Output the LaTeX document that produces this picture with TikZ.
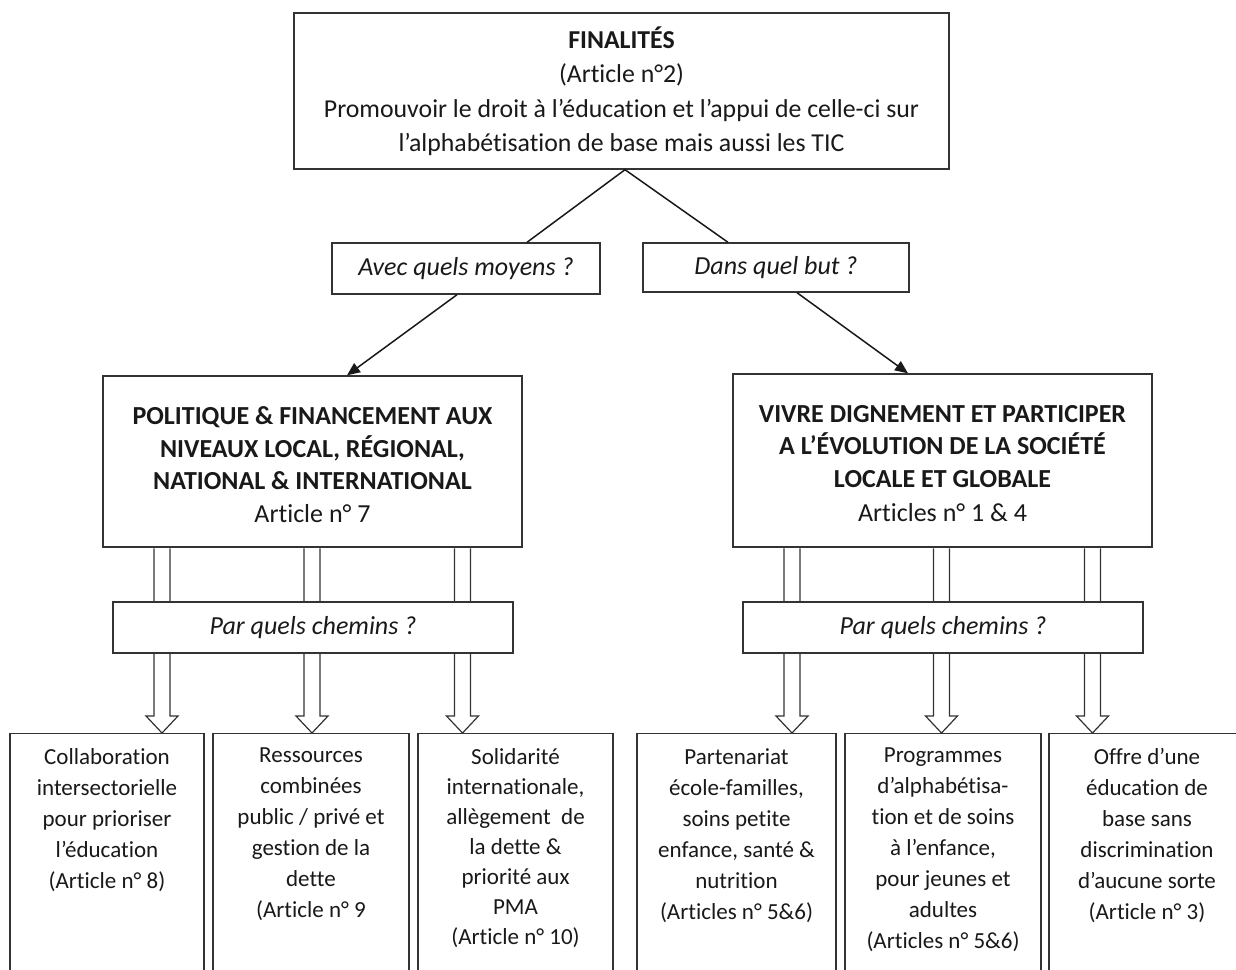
\documentclass[tikz,border=0pt]{standalone}
\usepackage{fontspec}
\setmainfont{Carlito}[Ligatures=NoCommon]
\usetikzlibrary{arrows.meta,calc}
\newcommand\hollowdown[2]{%
  \path[hollow] let \p1=(#1), \p2=(#1 |- #2.north) in
    (\x1-8pt,\y1-0.7pt) -- (\x1-8pt,\y2+17pt) -- (\x1-16pt,\y2+17pt) -- (\x1,\y2)
    -- (\x1+16pt,\y2+17pt) -- (\x1+8pt,\y2+17pt) -- (\x1+8pt,\y1-0.7pt);}
\begin{document}
\begin{tikzpicture}[x=1pt,y=-1pt,
  box/.style={draw=black!80, line width=1.4pt, align=center, inner sep=0pt, fill=white, text=black!90},
  qbox/.style={box, font=\itshape\fontsize{26}{30}\selectfont},
  bigbox/.style={box, minimum width=419pt},
  bigtext/.style={align=center, inner sep=0pt, text=black!90, font=\fontsize{26}{32.5}\selectfont},
  bbox/.style={box, anchor=north, minimum height=320pt},
  btext/.style={anchor=north, align=center, inner sep=0pt, text=black!90, font=\fontsize{23}{31}\selectfont},
  conn/.style={line width=1.5pt, draw=black!90},
  tip/.style={-{Triangle[length=13pt,width=11pt]}},
  hollow/.style={draw=black!80, line width=1.2pt, fill=white}]
\useasboundingbox (0,0) rectangle (1236,969);
\clip (0,0) rectangle (1236,969);

% top
\node[box, minimum width=655pt, minimum height=156pt, font=\fontsize{25.8}{34.5}\selectfont] (top) at (621.5,91)
  {\textbf{FINALITÉS}\\(Article n°2)\\Promouvoir le droit à l’éducation et l’appui de celle-ci sur\\l’alphabétisation de base mais aussi les TIC};

% questions
\node[qbox, minimum width=268pt, minimum height=51pt] (avec) at (466,268.5) {Avec quels moyens ?};
\node[qbox, minimum width=266pt, minimum height=49pt] (dans) at (776,267.5) {Dans quel but ?};

% big boxes
\node[bigbox, minimum height=171pt] (L) at (312.5,461.5) {};
\node[bigtext] (Lt) at ([yshift=-3pt]L.center)
  {\textbf{POLITIQUE \& FINANCEMENT AUX}\\\textbf{NIVEAUX LOCAL, RÉGIONAL,}\\\textbf{NATIONAL \& INTERNATIONAL}\\Article n° 7};
\node[bigbox, minimum height=173pt] (R) at (942.5,460.5) {};
\node[bigtext] (Rt) at ([yshift=-3pt]R.center)
  {\textbf{VIVRE DIGNEMENT ET PARTICIPER}\\\textbf{A L’ÉVOLUTION DE LA SOCIÉTÉ}\\\textbf{LOCALE ET GLOBALE}\\[2pt]Articles n° 1 \& 4};

% bottom boxes
\node[bbox, minimum width=194pt] (b1) at (107,733) {};
\node[bbox, minimum width=196pt] (b2) at (311,733) {};
\node[bbox, minimum width=195pt] (b3) at (515.5,733) {};
\node[bbox, minimum width=199pt] (b4) at (736.5,733) {};
\node[bbox, minimum width=196pt] (b5) at (943,733) {};
\node[bbox, minimum width=196pt] (b6) at (1147,733) {};

\node[btext] (t1) at ([yshift=-15pt]b1.north) {Collaboration\\intersectorielle\\pour prioriser\\l’éducation\\(Article n° 8)};
\node[btext] (t2) at ([yshift=-15pt]b2.north) {Ressources\\combinées\\public / privé et\\gestion de la\\dette\\(Article n° 9};
\node[btext, font=\fontsize{23}{30}\selectfont] (t3) at ([yshift=-15pt]b3.north) {Solidarité\\internationale,\\allègement\ \ de\\la dette \&\\priorité aux\\PMA\\(Article n° 10)};
\node[btext] (t4) at ([yshift=-15pt]b4.north) {Partenariat\\école-familles,\\soins petite\\enfance, santé \&\\nutrition\\(Articles n° 5\&6)};
\node[btext] (t5) at ([yshift=-15pt]b5.north) {Programmes\\d’alphabétisa-\\tion et de soins\\à l’enfance,\\pour jeunes et\\adultes\\(Articles n° 5\&6)};
\node[btext] (t6) at ([yshift=-15pt]b6.north) {Offre d’une\\éducation de\\base sans\\discrimination\\d’aucune sorte\\(Article n° 3)};

% connectors
\coordinate (apex) at ([xshift=3.5pt]top.south);
\draw[conn] ([xshift=61pt]avec.north) -- (apex) -- ([xshift=-48pt]dans.north);
\draw[conn,tip] ([xshift=-9pt]avec.south) -- ([xshift=34.5pt]L.north);
\draw[conn,tip] ([xshift=21pt]dans.south) -- ([xshift=-34.5pt]R.north);

% hollow arrows
\coordinate (s1) at ([xshift=-150.5pt]L.south);
\coordinate (s2) at ([xshift=-0.5pt]L.south);
\coordinate (s3) at ([xshift=150pt]L.south);
\coordinate (s4) at ([xshift=-150.5pt]R.south);
\coordinate (s5) at ([xshift=-1pt]R.south);
\coordinate (s6) at ([xshift=150pt]R.south);
\hollowdown{s1}{b1}
\hollowdown{s2}{b2}
\hollowdown{s3}{b3}
\hollowdown{s4}{b4}
\hollowdown{s5}{b5}
\hollowdown{s6}{b6}

% path boxes
\node[qbox, minimum width=400pt, minimum height=51pt] (parL) at (313,627.5) {Par quels chemins ?};
\node[qbox, minimum width=400pt, minimum height=51pt] (parR) at (943,627.5) {Par quels chemins ?};
\end{tikzpicture}
\end{document}
